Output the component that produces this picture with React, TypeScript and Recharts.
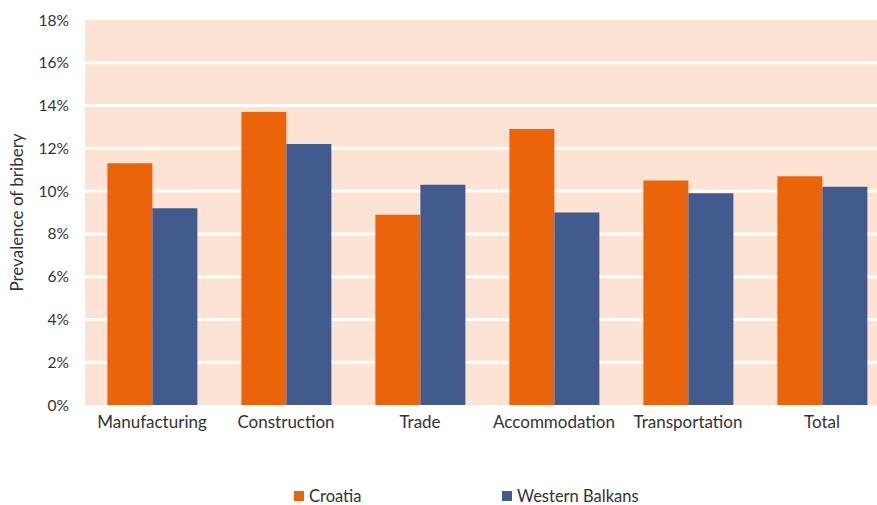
import { BarChart, Bar, XAxis, YAxis, CartesianGrid, Legend } from 'recharts';

const sectors = ['Manufacturing', 'Construction', 'Trade', 'Accommodation', 'Transportation', 'Total'];
const croatia = [11.3, 13.7, 8.9, 12.9, 10.5, 10.7];
const westernBalkans = [9.2, 12.2, 10.3, 9.0, 9.9, 10.2];
const yTicks = [0, 2, 4, 6, 8, 10, 12, 14, 16, 18];
const gridValues = [2, 4, 6, 8, 10, 12, 14, 16];
const yMax = 18;

const data = sectors.map((name, i) => ({ name, croatia: croatia[i], wb: westernBalkans[i] }));

const FONT = 'Lato, "Open Sans", sans-serif';
const TEXT = '#333333';

const LegendBox = ({ payload }: any) => (
  <div
    style={{
      height: 65,
      boxSizing: 'border-box',
      paddingTop: 47,
      display: 'flex',
      justifyContent: 'flex-start',
      paddingLeft: 294,
      fontFamily: FONT,
      fontSize: 16.5,
      color: TEXT,
      lineHeight: '20px',
    }}
  >
    {(payload || []).map((p: any, i: number) => (
      <div key={p.value} style={{ display: 'flex', alignItems: 'center', width: i === 0 ? 208 : 'auto' }}>
        <span style={{ width: 10, height: 10, background: p.color, display: 'inline-block', marginRight: 5 }} />
        <span>{p.value}</span>
      </div>
    ))}
  </div>
);

// the original plot runs a little past the right edge of the image, so the chart is wider and clipped
export default function App() {
  return (
    <div style={{ position: 'absolute', left: 0, top: 0, width: 877, height: 505, overflow: 'hidden', background: '#fff' }}>
      <BarChart
        width={889}
        height={505}
        data={data}
        margin={{ top: 20, right: 0, left: 0, bottom: 0 }}
        barCategoryGap="16.7%"
        barGap={0}
      >
        <CartesianGrid
          vertical={false}
          fill="#FCE3D3"
          fillOpacity={1}
          stroke="#ffffff"
          strokeWidth={3}
          horizontalCoordinatesGenerator={({ offset }: any) =>
            gridValues.map((v) => offset.top + offset.height * (1 - v / yMax))
          }
        />
        <XAxis
          dataKey="name"
          axisLine={false}
          tickLine={false}
          height={35}
          tick={{ fill: TEXT, fontSize: 17, fontFamily: FONT }}
          tickMargin={5}
          interval={0}
        />
        <YAxis
          width={85}
          domain={[0, yMax]}
          ticks={yTicks}
          axisLine={false}
          tickLine={false}
          tickFormatter={(v) => `${v}%`}
          tick={{ fill: TEXT, fontSize: 15.5, fontFamily: FONT }}
          tickMargin={10}
          label={{ value: 'Prevalence of bribery', angle: -90, position: 'insideLeft', offset: 17, style: { textAnchor: 'middle', fill: TEXT, fontSize: 17, fontFamily: FONT } }}
        />
        <Legend verticalAlign="bottom" height={65} content={<LegendBox />} />
        <Bar dataKey="croatia" name="Croatia" fill="#EB6409" isAnimationActive={false} />
        <Bar dataKey="wb" name="Western Balkans" fill="#415B8E" isAnimationActive={false} />
      </BarChart>
    </div>
  );
}
